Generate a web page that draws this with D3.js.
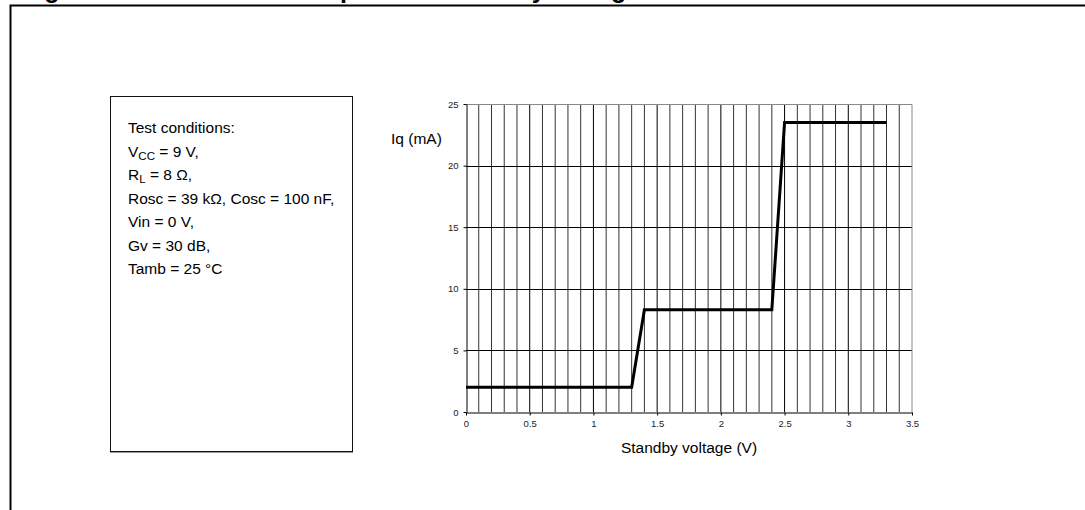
<!DOCTYPE html>
<html>
<head>
<meta charset="utf-8">
<script src="https://cdn.jsdelivr.net/npm/d3@7"></script>
<style>
  body { margin: 0; background: #fff; }
  svg { display: block; font-family: "Liberation Sans", Arial, sans-serif; }
</style>
</head>
<body>
<script>
var width = 1085, height = 510;

// data
var voltage = [0, 1.3, 1.4, 2.4, 2.5, 3.3];
var current = [2, 2, 8.3, 8.3, 23.5, 23.5];
var xTicks = [0, 0.5, 1, 1.5, 2, 2.5, 3, 3.5];
var yTicks = [0, 5, 10, 15, 20, 25];
var conditions = [
  ["Test conditions:"],
  ["V", "CC", " = 9 V,"],
  ["R", "L", " = 8 \u03A9,"],
  ["Rosc = 39 k\u03A9, Cosc = 100 nF,"],
  ["Vin = 0 V,"],
  ["Gv = 30 dB,"],
  ["Tamb = 25 \u00B0C"]
];
var title = "Figure 16. Current consumption vs. standby voltage";

var svg = d3.select("body").append("svg")
    .attr("width", width)
    .attr("height", height);

// title (cut off at the top, only descenders show)
svg.append("text")
    .attr("x", 22).attr("y", -2)
    .attr("font-size", 25).attr("font-weight", "bold")
    .text(title);

// outer frame
svg.append("path")
    .attr("d", "M10.5,510 V5.5 H1085")
    .attr("fill", "none").attr("stroke", "#000").attr("stroke-width", 2);

// conditions box
svg.append("rect")
    .attr("x", 110.5).attr("y", 96.5).attr("width", 242).attr("height", 355)
    .attr("fill", "none").attr("stroke", "#111").attr("stroke-width", 1);
svg.append("line")
    .attr("x1", 110).attr("x2", 353).attr("y1", 452.5).attr("y2", 452.5)
    .attr("stroke", "#999").attr("stroke-width", 1);

var ct = svg.append("g").attr("font-size", 15.5).attr("fill", "#000");
conditions.forEach(function(parts, i) {
  var t = ct.append("text").attr("x", 128).attr("y", 133 + i * 23.5);
  if (parts.length === 1) {
    t.text(parts[0]);
  } else {
    t.append("tspan").text(parts[0]);
    t.append("tspan").attr("font-size", 11.5).attr("dy", 3).text(parts[1]);
    t.append("tspan").attr("dy", -3).text(parts[2]);
  }
});

// plot
var x = d3.scaleLinear().domain([0, 3.5]).range([466, 912]);
var y = d3.scaleLinear().domain([0, 25]).range([412, 104]);

var grid = svg.append("g");
d3.range(1, 35).forEach(function(i) {
  var v = i / 10;
  grid.append("line")
      .attr("x1", x(v)).attr("x2", x(v))
      .attr("y1", y(0)).attr("y2", y(25))
      .attr("stroke", i % 5 === 0 ? "#000" : "#333").attr("stroke-width", 1);
});
yTicks.slice(1, -1).forEach(function(v) {
  grid.append("line")
      .attr("x1", x(0)).attr("x2", x(3.5))
      .attr("y1", Math.round(y(v)) + 0.5).attr("y2", Math.round(y(v)) + 0.5)
      .attr("stroke", "#000").attr("stroke-width", 1);
});
// top and right border in grey
svg.append("path")
    .attr("d", "M" + x(0) + "," + (y(25) + 0.5) + " H" + x(3.5) + " V" + y(0))
    .attr("fill", "none").attr("stroke", "#888").attr("stroke-width", 1);

var xAxis = svg.append("g")
    .attr("transform", "translate(0," + (Math.round(y(0)) + 0.5) + ")")
    .call(d3.axisBottom(x).tickValues(xTicks).tickSize(3).tickSizeOuter(0)
      .tickPadding(5).tickFormat(function(d) { return d; }));
var yAxis = svg.append("g")
    .attr("transform", "translate(" + (x(0) + 0.5) + ",0)")
    .call(d3.axisLeft(y).tickValues(yTicks).tickSize(3).tickSizeOuter(0).tickPadding(5));
[xAxis, yAxis].forEach(function(a) {
  a.select(".domain").attr("stroke", "#000");
  a.selectAll(".tick line").attr("stroke", "#000");
  a.selectAll(".tick text").attr("font-size", 9.5).attr("fill", "#222")
      .attr("font-family", "Liberation Sans, Arial, sans-serif");
});

// curve
var pts = voltage.map(function(v, i) { return [v, current[i]]; });
svg.append("path")
    .datum(pts)
    .attr("fill", "none").attr("stroke", "#000").attr("stroke-width", 3)
    .attr("stroke-linejoin", "miter")
    .attr("d", d3.line().x(function(d) { return x(d[0]); }).y(function(d) { return y(d[1]); }));

// axis titles
svg.append("text")
    .attr("x", 391).attr("y", 144).attr("font-size", 15.5)
    .text("Iq (mA)");
svg.append("text")
    .attr("x", 689).attr("y", 453).attr("font-size", 15.5)
    .attr("text-anchor", "middle")
    .text("Standby voltage (V)");
</script>
</body>
</html>
